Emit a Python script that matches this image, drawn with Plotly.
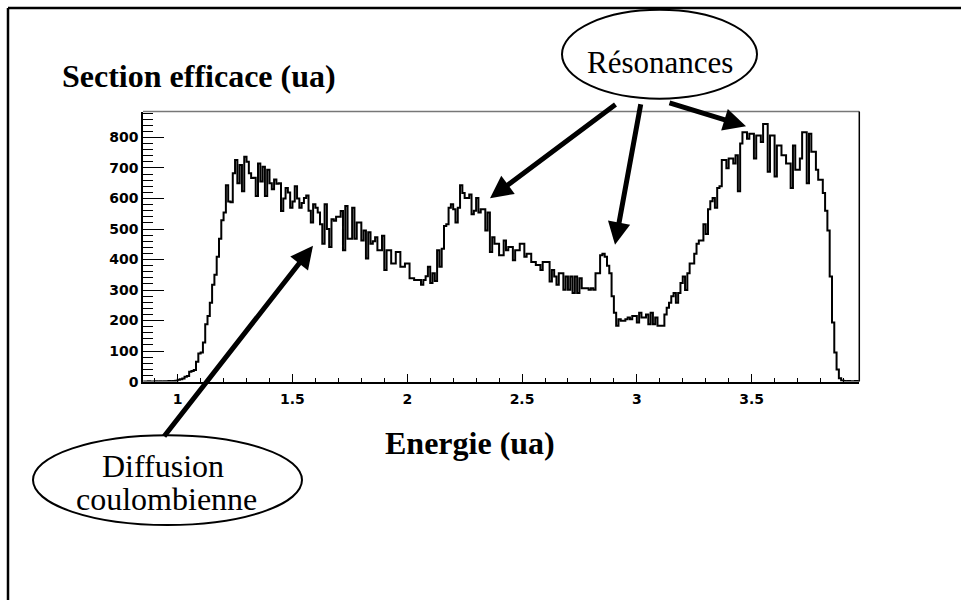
import numpy as np
import plotly.graph_objects as go

# ---- data ----
bin_start = 0.85
bin_width = 0.01
counts = [
    0, 0, 1, 0, 0, 1, 0, 1, 0, 1, 1, 2, 1, 2, 3,            # 0.85-0.99
    6, 8, 10, 16, 18, 32, 35, 38, 65, 92,                   # 1.00
    95, 128, 188, 215, 258, 317, 350, 409, 468, 529,        # 1.10
    554, 643, 590, 588, 683, 726, 650, 710, 624, 737,       # 1.20
    720, 683, 667, 668, 608, 715, 656, 704, 608, 694,       # 1.30
    650, 630, 662, 648, 650, 559, 600, 634, 620, 570,       # 1.40
    590, 640, 600, 570, 585, 602, 610, 560, 521, 581,       # 1.50
    570, 554, 516, 452, 581, 500, 441, 532, 527, 540,       # 1.60
    540, 559, 430, 575, 468, 468, 570, 468, 521, 521,       # 1.70
    462, 495, 403, 489, 452, 460, 473, 430, 430, 478,       # 1.80
    366, 430, 430, 387, 387, 425, 425, 376, 376, 387,       # 1.90
    387, 339, 339, 333, 333, 333, 317, 333, 345, 376,       # 2.00
    323, 355, 330, 430, 376, 435, 510, 516, 570, 581,       # 2.10
    565, 521, 570, 643, 618, 602, 602, 613, 548, 560,       # 2.20
    602, 554, 565, 565, 495, 554, 425, 473, 452, 452,       # 2.30
    414, 414, 462, 430, 441, 441, 398, 430, 430, 452,       # 2.40
    452, 409, 419, 419, 392, 392, 382, 382, 366, 392,       # 2.50
    392, 392, 328, 366, 344, 317, 355, 355, 301, 344,       # 2.60
    301, 344, 290, 344, 290, 339, 306, 306, 306, 301,       # 2.70
    306, 301, 355, 355, 414, 419, 409, 380, 355, 280,       # 2.80
    226, 183, 204, 199, 199, 204, 210, 204, 215, 215,       # 2.90
    194, 226, 210, 210, 220, 188, 226, 188, 210, 183,       # 3.00
    183, 183, 220, 242, 258, 280, 290, 258, 290, 323,       # 3.10
    344, 300, 355, 387, 387, 419, 452, 462, 462, 516,       # 3.20
    484, 565, 591, 602, 570, 634, 640, 726, 726, 699,       # 3.30
    731, 731, 715, 742, 624, 780, 817, 817, 796, 812,       # 3.40
    812, 731, 806, 806, 785, 844, 844, 688, 806, 806,       # 3.50
    672, 774, 774, 742, 742, 715, 715, 634, 774, 694,       # 3.60
    694, 731, 817, 817, 650, 812, 753, 753, 694, 661,       # 3.70
    661, 618, 560, 495, 344, 194, 95, 40, 11, 4,            # 3.80
    2, 1, 2, 0, 1, 2, 1,                                    # 3.90
]
x_range = [0.849, 3.969]
y_range = [0, 885]
x_tick_step = 0.5
x_minor_step = 0.1
y_tick_step = 100
y_minor_step = 20

title_y = "Section efficace (ua)"
title_x = "Energie (ua)"
label_res = "Résonances"
label_diff = ["Diffusion", "coulombienne"]

# ---- figure ----
W, H = 961, 608
def px(x):
    return x / W
def py(y):
    return 1 - y / H

edges = bin_start + bin_width * np.arange(len(counts) + 1)
yvals = list(counts) + [counts[-1]]

fig = go.Figure()
fig.add_trace(go.Scatter(
    x=edges, y=yvals, mode="lines",
    line=dict(shape="hv", color="black", width=2),
    hoverinfo="skip", showlegend=False,
))

tickfont = dict(family="DejaVu Sans", size=14, color="black", weight="bold")

fig.update_layout(
    width=W, height=H,
    margin=dict(l=0, r=0, t=0, b=0),
    paper_bgcolor="white", plot_bgcolor="white",
    showlegend=False,
    xaxis=dict(
        domain=[px(143), px(859.3)], range=x_range,
        dtick=x_tick_step, tick0=0, ticks="inside", ticklen=8, tickwidth=1,
        tickcolor="black", showgrid=False, zeroline=False,
        showline=True, linecolor="black", linewidth=1.5,
        tickfont=tickfont, ticklabelstandoff=4,
        minor=dict(dtick=x_minor_step, tick0=0, ticks="inside", ticklen=4,
                   tickcolor="black", showgrid=False),
    ),
    yaxis=dict(
        domain=[py(386.7), py(113)], range=y_range,
        dtick=y_tick_step, tick0=0, ticks="inside", ticklen=21, tickwidth=1,
        tickcolor="black", showgrid=False, zeroline=False,
        showline=True, linecolor="black", linewidth=1.5,
        tickfont=tickfont,
        minor=dict(dtick=y_minor_step, tick0=0, ticks="inside", ticklen=10,
                   tickcolor="black", showgrid=False),
    ),
)

shapes = []
# outer frame (top and left)
shapes.append(dict(type="line", xref="paper", yref="paper",
                   x0=px(8), y0=py(8), x1=1, y1=py(8),
                   line=dict(color="black", width=2.5)))
shapes.append(dict(type="line", xref="paper", yref="paper",
                   x0=px(8), y0=py(8), x1=px(8), y1=0,
                   line=dict(color="black", width=2.5)))
# plot frame top (gray) and right (black)
shapes.append(dict(type="line", xref="paper", yref="paper",
                   x0=px(143), y0=py(113), x1=px(859.3), y1=py(113),
                   line=dict(color="#777777", width=1.5)))
shapes.append(dict(type="line", xref="paper", yref="paper",
                   x0=px(859.3), y0=py(113), x1=px(859.3), y1=py(386.7),
                   line=dict(color="black", width=1.5)))
# ellipses
shapes.append(dict(type="circle", xref="paper", yref="paper",
                   x0=px(562), x1=px(757), y0=py(10), y1=py(100),
                   line=dict(color="black", width=2)))
shapes.append(dict(type="circle", xref="paper", yref="paper",
                   x0=px(33), x1=px(302), y0=py(441), y1=py(532),
                   line=dict(color="black", width=2)))
fig.update_layout(shapes=shapes)

serif_b = dict(family="Liberation Serif", size=32, color="black", weight="bold")
serif = dict(family="Liberation Serif", size=31, color="black")
serif_d = dict(family="Liberation Serif", size=32, color="black")

ann = []
ann.append(dict(text=title_y, xref="paper", yref="paper", x=px(60), y=py(77),
                xanchor="left", yanchor="middle", showarrow=False, font=serif_b))
ann.append(dict(text=title_x, xref="paper", yref="paper", x=px(470), y=py(449),
                xanchor="center", yanchor="middle", showarrow=False, font=serif_b))
ann.append(dict(text=label_res, xref="paper", yref="paper", x=px(660), y=py(63),
                xanchor="center", yanchor="middle", showarrow=False, font=serif))
ann.append(dict(text=label_diff[0], xref="paper", yref="paper", x=px(163), y=py(472),
                xanchor="center", yanchor="middle", showarrow=False, font=serif_d))
ann.append(dict(text=label_diff[1], xref="paper", yref="paper", x=px(166), y=py(506),
                xanchor="center", yanchor="middle", showarrow=False, font=serif_d))

# arrows: (tail_x, tail_y, head_x, head_y) in pixels
arrows = [
    (163, 441, 313, 249),
    (617, 106, 490, 201),
    (641, 106, 615, 248),
    (668, 104, 746, 128),
]
for tx, ty, hx, hy in arrows:
    ann.append(dict(text="", xref="paper", yref="paper", x=px(hx), y=py(hy),
                    ax=tx - hx, ay=ty - hy, axref="pixel", ayref="pixel",
                    showarrow=True, arrowhead=2, arrowsize=0.9, arrowwidth=5,
                    arrowcolor="black", standoff=0, startstandoff=0))
fig.update_layout(annotations=ann)

fig.write_html("out.html", config={"displayModeBar": False},
               post_script="document.body.style.margin='0';document.body.style.overflow='hidden';")
